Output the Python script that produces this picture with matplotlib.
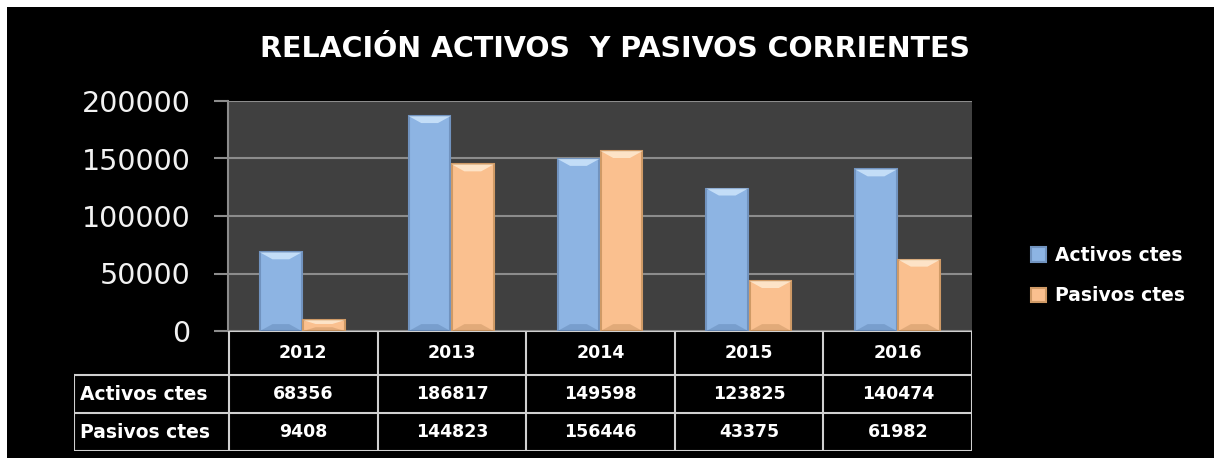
import matplotlib.pyplot as plt
from matplotlib.patches import Rectangle, Polygon

years = ['2012', '2013', '2014', '2015', '2016']
activos = [68356, 186817, 149598, 123825, 140474]
pasivos = [9408, 144823, 156446, 43375, 61982]
series_names = ['Activos ctes', 'Pasivos ctes']
yticks = [0, 50000, 100000, 150000, 200000]

blue = '#8db4e3'
orange = '#fac08f'


def add_bevel(ax, bars, light, dark):
    # soft chevrons at top and bottom of each bar, like the excel bevel effect
    for b in bars:
        x0 = b.get_x()
        w = b.get_width()
        top = b.get_height()
        d = min(6000, top * 0.35)
        pts = [(x0, top), (x0 + w, top), (x0 + w * 0.7, top - d),
               (x0 + w * 0.3, top - d)]
        ax.add_patch(Polygon(pts, closed=True, facecolor=light, alpha=0.75,
                             edgecolor='none', zorder=4))
        pts = [(x0, 0), (x0 + w, 0), (x0 + w * 0.7, d), (x0 + w * 0.3, d)]
        ax.add_patch(Polygon(pts, closed=True, facecolor=dark, alpha=0.25,
                             edgecolor='none', zorder=4))


fig = plt.figure(figsize=(12.14, 4.58), dpi=100, facecolor='black')

# white strips at top and left edge of the screenshot
fig.patches.append(Rectangle((0, 1 - 7 / 458), 1, 7 / 458, transform=fig.transFigure,
                             facecolor='white', edgecolor='none', zorder=0))
fig.patches.append(Rectangle((0, 0), 7 / 1214, 1, transform=fig.transFigure,
                             facecolor='white', edgecolor='none', zorder=0))

ax = fig.add_axes([228 / 1214, 127 / 458, 744 / 1214, 230 / 458])
ax.set_facecolor('#404040')

x = list(range(len(years)))
w = 0.28
b1 = ax.bar([i - 0.145 for i in x], activos, width=w, color=blue,
            edgecolor='#7193bf', linewidth=1.5, zorder=3, label=series_names[0])
b2 = ax.bar([i + 0.145 for i in x], pasivos, width=w, color=orange,
            edgecolor='#cf9a66', linewidth=1.5, zorder=3, label=series_names[1])
add_bevel(ax, b1, '#d6ecff', '#3d5f8c')
add_bevel(ax, b2, '#fff0da', '#9a6a3a')

ax.set_xlim(-0.5, len(years) - 0.5)
ax.set_ylim(0, 200000)
ax.set_yticks(yticks)
ax.set_yticklabels([str(v) for v in yticks], color='#f2f2f2', fontsize=20.5)
ax.set_xticks([])
ax.yaxis.grid(True, color='#8c8c8c', linewidth=1.5, zorder=0)
ax.set_axisbelow(True)
ax.tick_params(axis='y', length=10, width=1.5, color='#8c8c8c', pad=17)
for s in ['top', 'right', 'bottom']:
    ax.spines[s].set_visible(False)
ax.spines['left'].set_color('#8c8c8c')
ax.spines['left'].set_linewidth(1.5)

fig.text(0.507, 0.893, 'RELACIÓN ACTIVOS  Y PASIVOS CORRIENTES', color='white',
         fontsize=20.5, fontweight='bold', ha='center', va='center')

# data table under the plot
tab = fig.add_axes([74 / 1214, 7 / 458, 898 / 1214, 120 / 458])
tab.set_xlim(74, 972)
tab.set_ylim(451, 331)
tab.axis('off')
col_edges = [229 + i * 743 / 5 for i in range(6)]
row_edges = [331, 375, 413, 451]
lc = '#d0d0d0'
lw = 1.5
tab.plot([229, 972], [331, 331], color=lc, lw=lw)
for y in row_edges[1:]:
    tab.plot([74, 972], [y, y], color=lc, lw=lw)
for xe in col_edges:
    tab.plot([xe, xe], [331, 451], color=lc, lw=lw)
tab.plot([74, 74], [375, 451], color=lc, lw=lw)

for i, yr in enumerate(years):
    cx = (col_edges[i] + col_edges[i + 1]) / 2
    tab.text(cx, (row_edges[0] + row_edges[1]) / 2, yr, color='white',
             fontsize=12.5, fontweight='bold', ha='center', va='center')
    tab.text(cx, (row_edges[1] + row_edges[2]) / 2, str(activos[i]), color='white',
             fontsize=12.5, fontweight='bold', ha='center', va='center')
    tab.text(cx, (row_edges[2] + row_edges[3]) / 2, str(pasivos[i]), color='white',
             fontsize=12.5, fontweight='bold', ha='center', va='center')
tab.text(80, (row_edges[1] + row_edges[2]) / 2, series_names[0], color='white',
         fontsize=13.5, fontweight='bold', ha='left', va='center')
tab.text(80, (row_edges[2] + row_edges[3]) / 2, series_names[1], color='white',
         fontsize=13.5, fontweight='bold', ha='left', va='center')

leg = fig.legend(handles=[b1, b2], loc='upper left',
                 bbox_to_anchor=(1014 / 1214, 1 - 229 / 458), frameon=False,
                 handlelength=0.8, handleheight=0.8, handletextpad=0.5,
                 labelspacing=1.15, prop={'size': 13.5, 'weight': 'bold'})
for t in leg.get_texts():
    t.set_color('white')

fig.savefig('out.png', dpi=100, facecolor='black')
